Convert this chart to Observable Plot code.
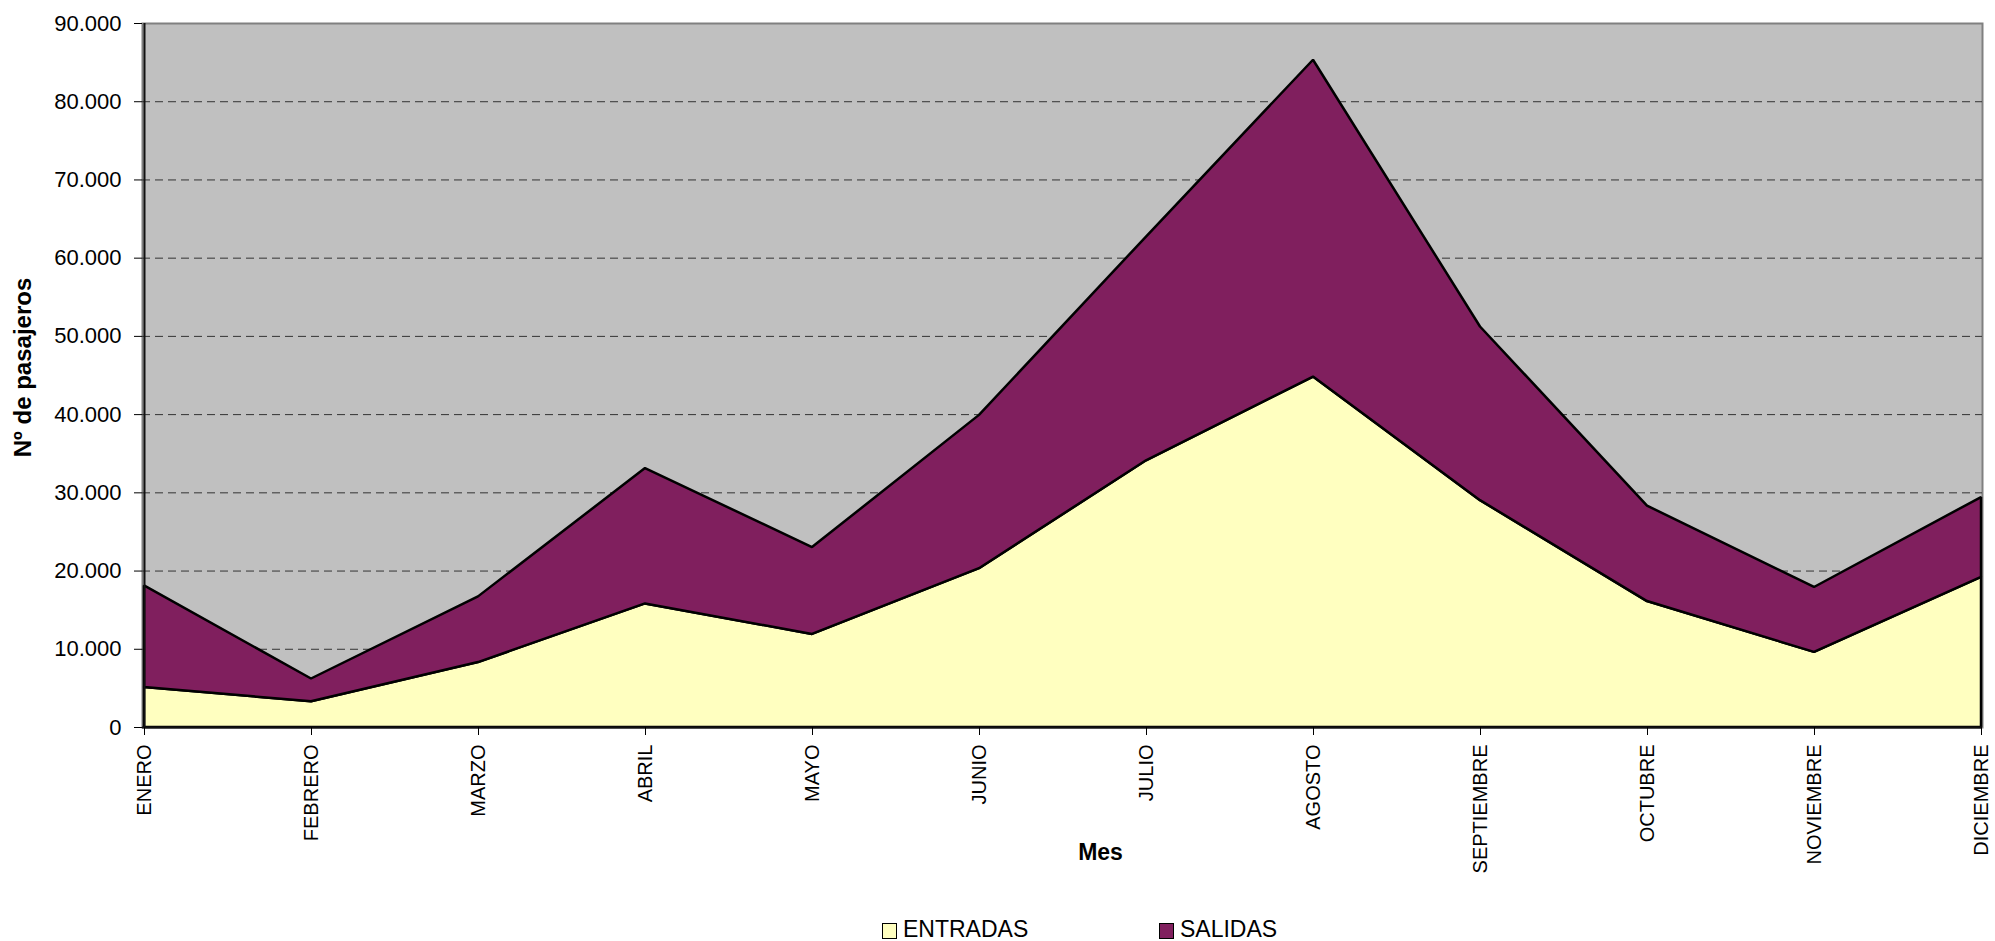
<!DOCTYPE html>
<html>
<head>
<meta charset="utf-8">
<script src="https://cdn.jsdelivr.net/npm/d3@7"></script>
<script src="https://cdn.jsdelivr.net/npm/@observablehq/plot@0.6"></script>
<style>
  html, body { margin: 0; padding: 0; background: white; overflow: hidden; }
  #wrap { position: relative; width: 1995px; height: 941px; font-family: "Liberation Sans", Arial, sans-serif; }
  #legend { position: absolute; top: 918px; left: 882px; display: flex; font-size: 23px; line-height: 23px; color: black; }
  .item { display: flex; align-items: center; width: 277px; }
  .sw { width: 13px; height: 14px; border: 1.5px solid black; margin-right: 6px; margin-top: 2px; }
</style>
</head>
<body>
<div id="wrap"><div id="chart"></div><div id="legend"></div></div>
<script>
const months = ["ENERO","FEBRERO","MARZO","ABRIL","MAYO","JUNIO","JULIO","AGOSTO","SEPTIEMBRE","OCTUBRE","NOVIEMBRE","DICIEMBRE"];
const entradas = [5100, 3300, 8300, 15800, 11900, 20300, 34100, 44800, 29000, 16100, 9600, 19200];
const salidas  = [13000, 2900, 8400, 17300, 11100, 19600, 28600, 40500, 22200, 12200, 8300, 10200];
const series = ["ENTRADAS", "SALIDAS"];
const colors = ["#FFFFC0", "#801F5E"];
const yTicks = [0, 10000, 20000, 30000, 40000, 50000, 60000, 70000, 80000, 90000];
const gridTicks = [10000, 20000, 30000, 40000, 50000, 60000, 70000, 80000];

const esFormat = d3.formatLocale({decimal: ",", thousands: ".", grouping: [3], currency: ["", "€"]}).format(",");

const data = months.flatMap((m, i) => [
  {month: m, serie: "ENTRADAS", value: entradas[i]},
  {month: m, serie: "SALIDAS", value: salidas[i]}
]);

const chart = Plot.plot({
  width: 1995,
  height: 905,
  marginLeft: 142,
  marginRight: 13,
  marginTop: 23,
  marginBottom: 178,
  style: {fontFamily: "'Liberation Sans', Arial, sans-serif", background: "white", color: "black", overflow: "visible"},
  x: {type: "point", domain: months, padding: 0, label: null},
  y: {domain: [0, 90000], label: null},
  color: {domain: series, range: colors},
  marks: [
    Plot.frame({fill: "#C0C0C0", stroke: "#808080", strokeWidth: 2}),
    Plot.ruleY(gridTicks, {stroke: "#333", strokeDasharray: "8,5", strokeWidth: 1}),
    Plot.areaY(data, {x: "month", y: "value", z: "serie", fill: "serie", order: series, stroke: "black", strokeWidth: 2.5, strokeLinejoin: "miter"}),
    Plot.ruleX([months[0]], {stroke: "#111", strokeWidth: 2}),
    Plot.ruleY([0], {stroke: "#111", strokeWidth: 2}),
    Plot.axisY({ticks: yTicks, tickFormat: esFormat, tickSize: 8, tickPadding: 13, fontSize: 22, label: null}),
    Plot.axisX({tickSize: 8, tickPadding: 9, tickRotate: -90, fontSize: 20, label: null}),
    Plot.text(["Nº de pasajeros"], {frameAnchor: "left", textAnchor: "middle", lineAnchor: "middle", rotate: -90, dx: -119, dy: -8, fontSize: 24, fontWeight: "bold", fill: "black"}),
    Plot.text(["Mes"], {frameAnchor: "bottom", textAnchor: "middle", lineAnchor: "middle", dx: 38, dy: 125, fontSize: 23, fontWeight: "bold", fill: "black"})
  ]
});
document.getElementById("chart").appendChild(chart);

const legend = document.getElementById("legend");
series.forEach((s, i) => {
  const item = document.createElement("div");
  item.className = "item";
  const sw = document.createElement("div");
  sw.className = "sw";
  sw.style.background = colors[i];
  const label = document.createElement("span");
  label.textContent = s;
  item.appendChild(sw);
  item.appendChild(label);
  legend.appendChild(item);
});
</script>
</body>
</html>
